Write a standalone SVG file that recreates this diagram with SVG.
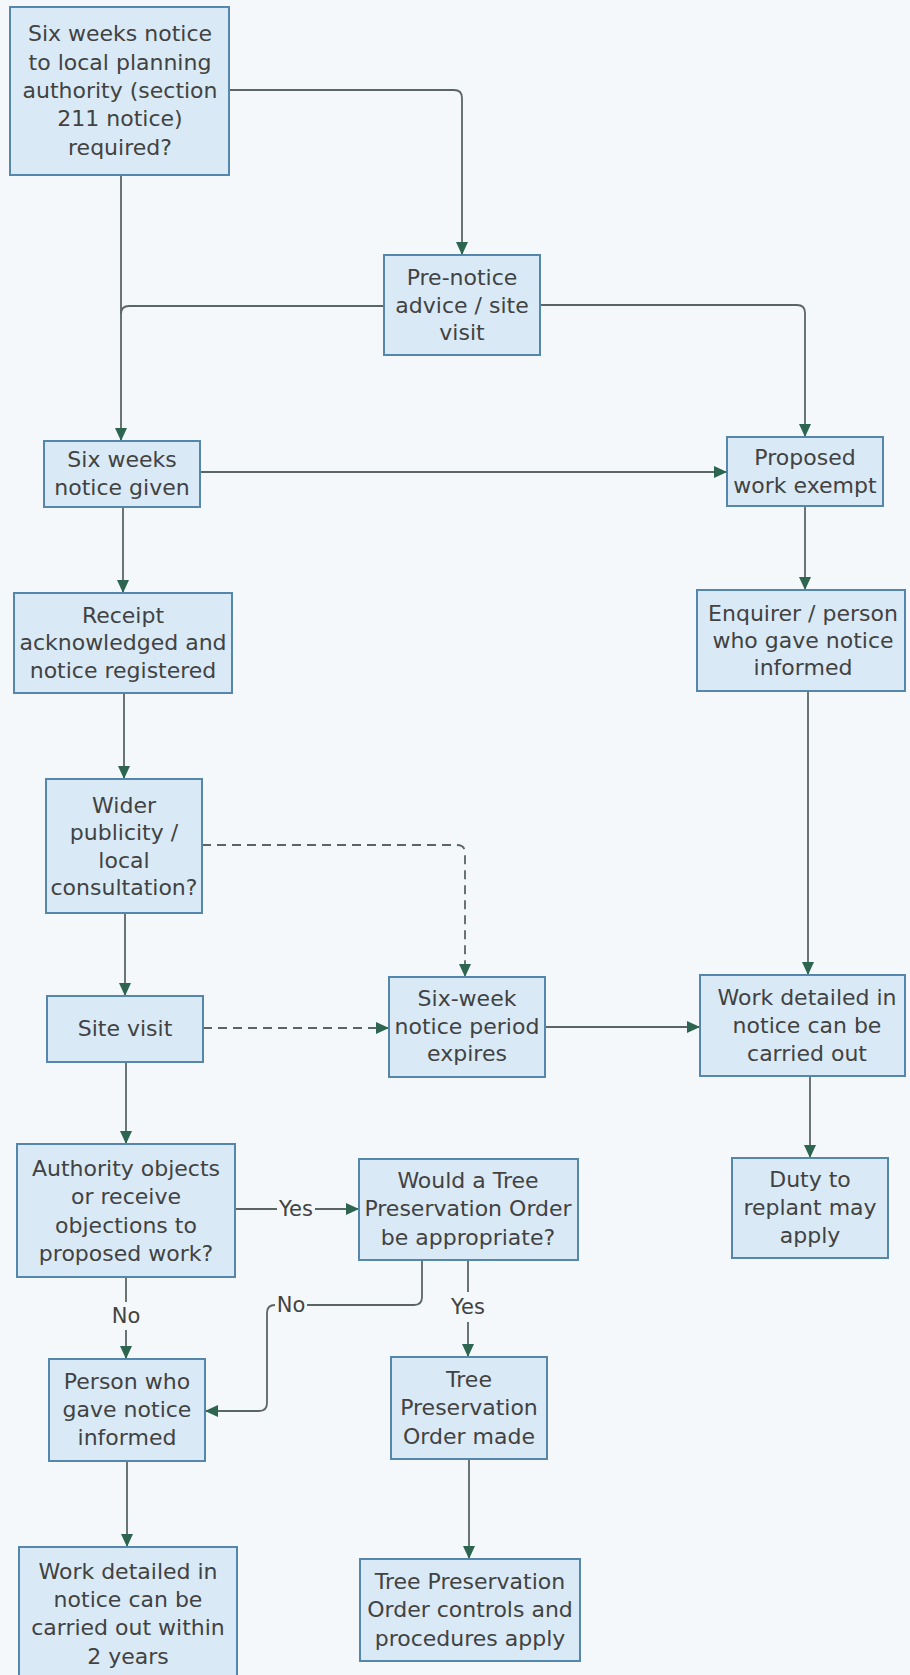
<svg xmlns="http://www.w3.org/2000/svg" width="910" height="1675" viewBox="0 0 910 1675">
<defs>
<style>
.box{fill:#d9eaf6;stroke:#5587ad;stroke-width:2}
.t{font-family:"DejaVu Sans",Verdana,sans-serif;font-size:22px;fill:#424242;text-anchor:middle}
.lbl{font-family:"DejaVu Sans",Verdana,sans-serif;font-size:21px;fill:#424242;text-anchor:middle}
.c{fill:none;stroke:#5a6663;stroke-width:1.8}
.d{fill:none;stroke:#5a6663;stroke-width:1.8;stroke-dasharray:9 6}
.a{marker-end:url(#arr)}
</style>
<marker id="arr" markerUnits="userSpaceOnUse" markerWidth="13" markerHeight="12" refX="13" refY="6" orient="auto">
<path d="M0,0 L13,6 L0,12 z" fill="#2d6550"/>
</marker>
</defs>
<rect x="0" y="0" width="910" height="1675" fill="#f4f8fa"/>

<g id="connectors">
<path class="c a" d="M229,90 H454 Q462,90 462,98 V255"/>
<path class="c" d="M384,306 H129 Q121,306 121,314"/>
<path class="c a" d="M121,175 V441"/>
<path class="c a" d="M540,305 H797 Q805,305 805,313 V437"/>
<path class="c a" d="M200,472 H727"/>
<path class="c a" d="M123,507 V593"/>
<path class="c a" d="M805,506 V590"/>
<path class="c a" d="M124,693 V779"/>
<path class="c a" d="M808,691 V975"/>
<path class="d a" d="M202,845 H457 Q465,845 465,853 V977"/>
<path class="c a" d="M125,913 V996"/>
<path class="d a" d="M203,1028 H389"/>
<path class="c a" d="M545,1027 H700"/>
<path class="c a" d="M810,1076 V1158"/>
<path class="c a" d="M126,1062 V1144"/>
<path class="c a" d="M235,1209 H277 M315,1209 H359"/>
<path class="c a" d="M126,1277 V1302 M126,1330 V1359"/>
<path class="c a" d="M422,1261 V1297 Q422,1305 414,1305 H307 M275,1305 Q267,1305 267,1313 V1403 Q267,1411 259,1411 H205"/>
<path class="c a" d="M468,1261 V1292 M468,1322 V1357"/>
<path class="c a" d="M127,1461 V1547"/>
<path class="c a" d="M469,1459 V1559"/>
<text class="lbl" x="296" y="1216">Yes</text>
<text class="lbl" x="126" y="1323">No</text>
<text class="lbl" x="291" y="1312">No</text>
<text class="lbl" x="468" y="1314">Yes</text>
</g>

<g id="n1"><rect class="box" x="10" y="7" width="219" height="168"/>
<text class="t" x="120" y="41">Six weeks notice</text>
<text class="t" x="120" y="70">to local planning</text>
<text class="t" x="120" y="98">authority (section</text>
<text class="t" x="120" y="126">211 notice)</text>
<text class="t" x="120" y="155">required?</text></g>

<g id="n2"><rect class="box" x="384" y="255" width="156" height="100"/>
<text class="t" x="462" y="285">Pre-notice</text>
<text class="t" x="462" y="313">advice / site</text>
<text class="t" x="462" y="340">visit</text></g>

<g id="n3"><rect class="box" x="44" y="441" width="156" height="66"/>
<text class="t" x="122" y="467">Six weeks</text>
<text class="t" x="122" y="495">notice given</text></g>

<g id="n4"><rect class="box" x="727" y="437" width="156" height="69"/>
<text class="t" x="805" y="465">Proposed</text>
<text class="t" x="805" y="493">work exempt</text></g>

<g id="n5"><rect class="box" x="14" y="593" width="218" height="100"/>
<text class="t" x="123" y="623">Receipt</text>
<text class="t" x="123" y="650">acknowledged and</text>
<text class="t" x="123" y="678">notice registered</text></g>

<g id="n6"><rect class="box" x="697" y="590" width="208" height="101"/>
<text class="t" x="803" y="621">Enquirer / person</text>
<text class="t" x="803" y="648">who gave notice</text>
<text class="t" x="803" y="675">informed</text></g>

<g id="n7"><rect class="box" x="46" y="779" width="156" height="134"/>
<text class="t" x="124" y="813">Wider</text>
<text class="t" x="124" y="840">publicity /</text>
<text class="t" x="124" y="868">local</text>
<text class="t" x="124" y="895">consultation?</text></g>

<g id="n8"><rect class="box" x="47" y="996" width="156" height="66"/>
<text class="t" x="125" y="1036">Site visit</text></g>

<g id="n9"><rect class="box" x="389" y="977" width="156" height="100"/>
<text class="t" x="467" y="1006">Six-week</text>
<text class="t" x="467" y="1034">notice period</text>
<text class="t" x="467" y="1061">expires</text></g>

<g id="n10"><rect class="box" x="700" y="975" width="205" height="101"/>
<text class="t" x="807" y="1005">Work detailed in</text>
<text class="t" x="807" y="1033">notice can be</text>
<text class="t" x="807" y="1061">carried out</text></g>

<g id="n11"><rect class="box" x="17" y="1144" width="218" height="133"/>
<text class="t" x="126" y="1176">Authority objects</text>
<text class="t" x="126" y="1204">or receive</text>
<text class="t" x="126" y="1233">objections to</text>
<text class="t" x="126" y="1261">proposed work?</text></g>

<g id="n12"><rect class="box" x="359" y="1159" width="219" height="101"/>
<text class="t" x="468" y="1188">Would a Tree</text>
<text class="t" x="468" y="1216">Preservation Order</text>
<text class="t" x="468" y="1245">be appropriate?</text></g>

<g id="n13"><rect class="box" x="732" y="1158" width="156" height="100"/>
<text class="t" x="810" y="1187">Duty to</text>
<text class="t" x="810" y="1215">replant may</text>
<text class="t" x="810" y="1243">apply</text></g>

<g id="n14"><rect class="box" x="49" y="1359" width="156" height="102"/>
<text class="t" x="127" y="1389">Person who</text>
<text class="t" x="127" y="1417">gave notice</text>
<text class="t" x="127" y="1445">informed</text></g>

<g id="n15"><rect class="box" x="391" y="1357" width="156" height="102"/>
<text class="t" x="469" y="1387">Tree</text>
<text class="t" x="469" y="1415">Preservation</text>
<text class="t" x="469" y="1444">Order made</text></g>

<g id="n16"><rect class="box" x="19" y="1547" width="218" height="150"/>
<text class="t" x="128" y="1579">Work detailed in</text>
<text class="t" x="128" y="1607">notice can be</text>
<text class="t" x="128" y="1635">carried out within</text>
<text class="t" x="128" y="1664">2 years</text></g>

<g id="n17"><rect class="box" x="360" y="1559" width="220" height="102"/>
<text class="t" x="470" y="1589">Tree Preservation</text>
<text class="t" x="470" y="1617">Order controls and</text>
<text class="t" x="470" y="1646">procedures apply</text></g>
</svg>
